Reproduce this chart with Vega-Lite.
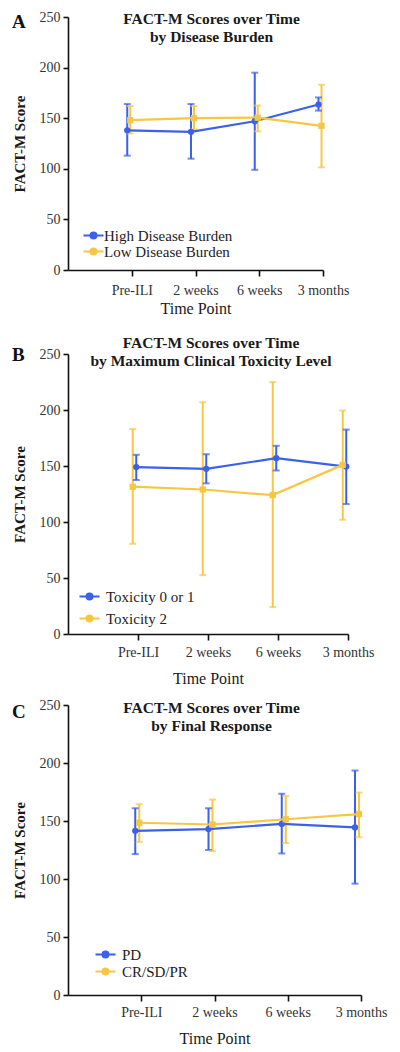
{
  "$schema": "https://vega.github.io/schema/vega-lite/v6.json",
  "background": "white",
  "padding": {"left": 12, "top": 10, "right": 5, "bottom": 2},
  "spacing": 19,
  "datasets": {
    "A": [
      {"group": "High Disease Burden", "time": "Pre-ILI", "mean": 138, "lo": 113, "hi": 164},
      {"group": "High Disease Burden", "time": "2 weeks", "mean": 136.5, "lo": 110, "hi": 164},
      {"group": "High Disease Burden", "time": "6 weeks", "mean": 147, "lo": 99, "hi": 195},
      {"group": "High Disease Burden", "time": "3 months", "mean": 163.5, "lo": 157.5, "hi": 170.5},
      {"group": "Low Disease Burden", "time": "Pre-ILI", "mean": 148, "lo": 135, "hi": 162},
      {"group": "Low Disease Burden", "time": "2 weeks", "mean": 150, "lo": 139, "hi": 162},
      {"group": "Low Disease Burden", "time": "6 weeks", "mean": 150.5, "lo": 137, "hi": 162.5},
      {"group": "Low Disease Burden", "time": "3 months", "mean": 142.5, "lo": 101.5, "hi": 183}
    ],
    "B": [
      {"group": "Toxicity 0 or 1", "time": "Pre-ILI", "mean": 149, "lo": 137.5, "hi": 160},
      {"group": "Toxicity 0 or 1", "time": "2 weeks", "mean": 147.5, "lo": 134.5, "hi": 160.5},
      {"group": "Toxicity 0 or 1", "time": "6 weeks", "mean": 157, "lo": 146, "hi": 168},
      {"group": "Toxicity 0 or 1", "time": "3 months", "mean": 149.5, "lo": 116, "hi": 182.5},
      {"group": "Toxicity 2", "time": "Pre-ILI", "mean": 131.5, "lo": 80.5, "hi": 183},
      {"group": "Toxicity 2", "time": "2 weeks", "mean": 129, "lo": 52.5, "hi": 207},
      {"group": "Toxicity 2", "time": "6 weeks", "mean": 124, "lo": 24, "hi": 225},
      {"group": "Toxicity 2", "time": "3 months", "mean": 151, "lo": 102, "hi": 199.5}
    ],
    "C": [
      {"group": "PD", "time": "Pre-ILI", "mean": 141.5, "lo": 121.5, "hi": 161},
      {"group": "PD", "time": "2 weeks", "mean": 143, "lo": 125, "hi": 161},
      {"group": "PD", "time": "6 weeks", "mean": 147.5, "lo": 122, "hi": 173.5},
      {"group": "PD", "time": "3 months", "mean": 144.5, "lo": 96, "hi": 193.5},
      {"group": "CR/SD/PR", "time": "Pre-ILI", "mean": 148.5, "lo": 132, "hi": 164.5},
      {"group": "CR/SD/PR", "time": "2 weeks", "mean": 147, "lo": 124, "hi": 168.5},
      {"group": "CR/SD/PR", "time": "6 weeks", "mean": 151.5, "lo": 131, "hi": 171.5},
      {"group": "CR/SD/PR", "time": "3 months", "mean": 156, "lo": 136, "hi": 174.5}
    ]
  },
  "vconcat": [
    {
      "title": {"text": "A", "anchor": "start", "frame": "bounds", "offset": -22, "font": "Liberation Serif", "fontSize": 19, "fontWeight": "bold", "color": "#111"},
      "vconcat": [
        {
          "width": 255, "height": 253,
          "data": {"name": "A"},
          "title": {"text": ["FACT-M Scores over Time", "by Disease Burden"], "offset": -35, "dx": 16},
          "encoding": {
            "x": {"field": "time", "type": "ordinal", "scale": {"type": "point", "domain": ["", "Pre-ILI", "2 weeks", "6 weeks", "3 months"], "padding": 0}, "axis": {"title": "Time Point", "titlePadding": 3}},
            "xOffset": {"field": "group", "type": "nominal", "scale": {"domain": ["High Disease Burden", "Low Disease Burden"], "range": [-6, 0]}}
          },
          "layer": [
            {"mark": {"type": "rule", "strokeWidth": 2}, "encoding": {
              "y": {"field": "lo", "type": "quantitative", "scale": {"domain": [0, 250], "nice": false}, "axis": {"values": [0, 50, 100, 150, 200, 250], "title": "FACT-M Score"}}, "y2": {"field": "hi"},
              "stroke": {"field": "group", "type": "nominal", "scale": {"domain": ["High Disease Burden", "Low Disease Burden"], "range": ["#3a60ec", "#f6c744"]}, "legend": {"orient": "none", "legendX": 18, "legendY": 211, "title": null, "rowPadding": 0, "labelOffset": 3}}}},
            {"mark": {"type": "tick", "thickness": 2, "size": 7}, "encoding": {"y": {"field": "lo", "type": "quantitative"}, "fill": {"field": "group", "type": "nominal", "scale": {"domain": ["High Disease Burden", "Low Disease Burden"], "range": ["#3a60ec", "#f6c744"]}, "legend": {"orient": "none", "legendX": 18, "legendY": 211, "title": null, "rowPadding": 0, "labelOffset": 3}}}},
            {"mark": {"type": "tick", "thickness": 2, "size": 7}, "encoding": {"y": {"field": "hi", "type": "quantitative"}, "fill": {"field": "group", "type": "nominal"}}},
            {"mark": {"type": "line", "strokeWidth": 2.2}, "encoding": {"y": {"field": "mean", "type": "quantitative"}, "stroke": {"field": "group", "type": "nominal"}, "order": {"value": null}}},
            {"transform": [{"filter": "datum.group === 'High Disease Burden'"}], "mark": {"type": "point", "shape": "circle", "filled": true, "opacity": 1, "size": 40}, "encoding": {"y": {"field": "mean", "type": "quantitative"}, "fill": {"field": "group", "type": "nominal"}}},
            {"transform": [{"filter": "datum.group === 'Low Disease Burden'"}], "mark": {"type": "point", "shape": "square", "filled": true, "opacity": 1, "size": 40}, "encoding": {"y": {"field": "mean", "type": "quantitative"}, "fill": {"field": "group", "type": "nominal"}}}
          ]
        }
      ]
    },
    {
      "spacing": 12,
      "resolve": {"scale": {"fill": "independent", "stroke": "independent", "xOffset": "independent"}, "legend": {"fill": "independent", "stroke": "independent"}},
      "vconcat": [
        {
          "title": {"text": "B", "anchor": "start", "frame": "bounds", "offset": -29, "font": "Liberation Serif", "fontSize": 19, "fontWeight": "bold", "color": "#111"},
          "vconcat": [
            {
              "width": 280, "height": 280,
              "data": {"name": "B"},
              "title": {"text": ["FACT-M Scores over Time", "by Maximum Clinical Toxicity Level"], "offset": -22, "dx": 3},
              "encoding": {
                "x": {"field": "time", "type": "ordinal", "scale": {"type": "point", "domain": ["", "Pre-ILI", "2 weeks", "6 weeks", "3 months"], "padding": 0}, "axis": {"title": "Time Point", "labelPadding": 5, "titlePadding": 11}},
                "xOffset": {"field": "group", "type": "nominal", "scale": {"domain": ["Toxicity 0 or 1", "Toxicity 2"], "range": [0, -7]}}
              },
              "layer": [
                {"mark": {"type": "rule", "strokeWidth": 2}, "encoding": {
                  "y": {"field": "lo", "type": "quantitative", "scale": {"domain": [0, 250], "nice": false}, "axis": {"values": [0, 50, 100, 150, 200, 250], "title": "FACT-M Score"}}, "y2": {"field": "hi"},
                  "stroke": {"field": "group", "type": "nominal", "scale": {"domain": ["Toxicity 0 or 1", "Toxicity 2"], "range": ["#3a60ec", "#f6c744"]}, "legend": {"orient": "none", "legendX": 14, "legendY": 235, "title": null, "rowPadding": 6, "labelOffset": 9}}}},
                {"mark": {"type": "tick", "thickness": 2, "size": 7}, "encoding": {"y": {"field": "lo", "type": "quantitative"}, "fill": {"field": "group", "type": "nominal", "scale": {"domain": ["Toxicity 0 or 1", "Toxicity 2"], "range": ["#3a60ec", "#f6c744"]}, "legend": {"orient": "none", "legendX": 14, "legendY": 235, "title": null, "rowPadding": 6, "labelOffset": 9}}}},
                {"mark": {"type": "tick", "thickness": 2, "size": 7}, "encoding": {"y": {"field": "hi", "type": "quantitative"}, "fill": {"field": "group", "type": "nominal"}}},
                {"mark": {"type": "line", "strokeWidth": 2.2}, "encoding": {"y": {"field": "mean", "type": "quantitative"}, "stroke": {"field": "group", "type": "nominal"}, "order": {"value": null}}},
                {"transform": [{"filter": "datum.group === 'Toxicity 0 or 1'"}], "mark": {"type": "point", "shape": "circle", "filled": true, "opacity": 1, "size": 40}, "encoding": {"y": {"field": "mean", "type": "quantitative"}, "fill": {"field": "group", "type": "nominal"}}},
                {"transform": [{"filter": "datum.group === 'Toxicity 2'"}], "mark": {"type": "point", "shape": "square", "filled": true, "opacity": 1, "size": 40}, "encoding": {"y": {"field": "mean", "type": "quantitative"}, "fill": {"field": "group", "type": "nominal"}}}
              ]
            }
          ]
        },
        {
          "title": {"text": "C", "anchor": "start", "frame": "bounds", "offset": -24, "font": "Liberation Serif", "fontSize": 19, "fontWeight": "bold", "color": "#111"},
          "vconcat": [
            {
              "width": 293, "height": 290,
              "data": {"name": "C"},
              "title": {"text": ["FACT-M Scores over Time", "by Final Response"], "offset": -36, "dx": -3},
              "encoding": {
                "x": {"field": "time", "type": "ordinal", "scale": {"type": "point", "domain": ["", "Pre-ILI", "2 weeks", "6 weeks", "3 months"], "padding": 0}, "axis": {"title": "Time Point", "labelPadding": 4, "titlePadding": 11}},
                "xOffset": {"field": "group", "type": "nominal", "scale": {"domain": ["PD", "CR/SD/PR"], "range": [-8, 0]}}
              },
              "layer": [
                {"mark": {"type": "rule", "strokeWidth": 2}, "encoding": {
                  "y": {"field": "lo", "type": "quantitative", "scale": {"domain": [0, 250], "nice": false}, "axis": {"values": [0, 50, 100, 150, 200, 250], "title": "FACT-M Score"}}, "y2": {"field": "hi"},
                  "stroke": {"field": "group", "type": "nominal", "scale": {"domain": ["PD", "CR/SD/PR"], "range": ["#3a60ec", "#f6c744"]}, "legend": {"orient": "none", "legendX": 30, "legendY": 242, "title": null, "rowPadding": 1, "labelOffset": 9}}}},
                {"mark": {"type": "tick", "thickness": 2, "size": 7}, "encoding": {"y": {"field": "lo", "type": "quantitative"}, "fill": {"field": "group", "type": "nominal", "scale": {"domain": ["PD", "CR/SD/PR"], "range": ["#3a60ec", "#f6c744"]}, "legend": {"orient": "none", "legendX": 30, "legendY": 242, "title": null, "rowPadding": 1, "labelOffset": 9}}}},
                {"mark": {"type": "tick", "thickness": 2, "size": 7}, "encoding": {"y": {"field": "hi", "type": "quantitative"}, "fill": {"field": "group", "type": "nominal"}}},
                {"mark": {"type": "line", "strokeWidth": 2.2}, "encoding": {"y": {"field": "mean", "type": "quantitative"}, "stroke": {"field": "group", "type": "nominal"}, "order": {"value": null}}},
                {"transform": [{"filter": "datum.group === 'PD'"}], "mark": {"type": "point", "shape": "circle", "filled": true, "opacity": 1, "size": 40}, "encoding": {"y": {"field": "mean", "type": "quantitative"}, "fill": {"field": "group", "type": "nominal"}}},
                {"transform": [{"filter": "datum.group === 'CR/SD/PR'"}], "mark": {"type": "point", "shape": "square", "filled": true, "opacity": 1, "size": 40}, "encoding": {"y": {"field": "mean", "type": "quantitative"}, "fill": {"field": "group", "type": "nominal"}}}
              ]
            }
          ]
        }
      ]
    }
  ],
  "resolve": {"scale": {"fill": "independent", "stroke": "independent", "xOffset": "independent"}, "legend": {"fill": "independent", "stroke": "independent"}},
  "config": {
    "font": "Liberation Serif",
    "view": {"stroke": null},
    "title": {"font": "Liberation Serif", "fontSize": 15.5, "fontWeight": "bold", "color": "#1a1a1a", "lineHeight": 18, "anchor": "middle"},
    "axis": {"grid": false, "domainColor": "#111", "domainWidth": 1.6, "tickColor": "#111", "tickWidth": 1.6, "tickSize": 6, "labelFont": "Liberation Serif", "labelFontSize": 14, "labelColor": "#333", "titleFont": "Liberation Serif", "titleColor": "#1a1a1a"},
    "axisX": {"labelAngle": 0, "labelPadding": 7, "titleFontSize": 16, "titleFontWeight": "normal", "tickOpacity": {"condition": {"test": "datum.value === ''", "value": 0}, "value": 1}},
    "axisY": {"tickSize": 5, "labelPadding": 3, "titleFontSize": 15, "titleFontWeight": "bold", "titlePadding": 12},
    "legend": {"labelFont": "Liberation Serif", "labelFontSize": 15, "labelColor": "#222", "symbolSize": 64, "symbolStrokeWidth": 2, "symbolOpacity": 1, "symbolType": "M-2.5,0H2.5M-0.75,0A0.75,0.75,0,1,1,0.75,0A0.75,0.75,0,1,1,-0.75,0Z", "padding": 0, "labelLimit": 300}
  }
}
